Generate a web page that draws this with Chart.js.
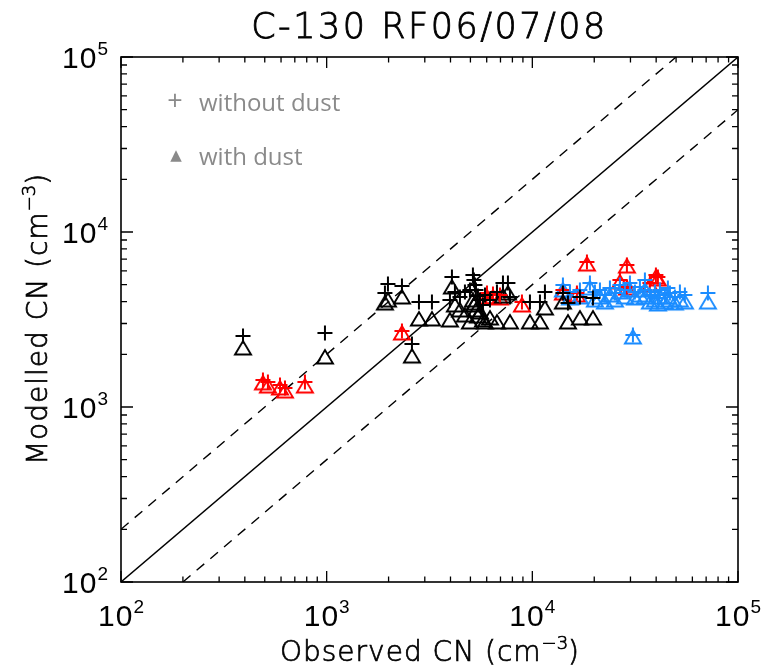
<!DOCTYPE html>
<html><head><meta charset="utf-8">
<script src="https://cdn.jsdelivr.net/npm/chart.js@4/dist/chart.umd.min.js"></script>
<style>html,body{margin:0;padding:0;background:#fff}canvas{display:block}</style>
</head><body>
<canvas id="c" width="762" height="668"></canvas>
<script>
// ---- text ----
const TITLE = 'C-130 RF06/07/08';
const X_TITLE = ['Observed CN (cm', '\u22123', ')'];
const Y_TITLE = ['Modelled CN (cm', '\u22123', ')'];
const LEGEND_LABELS = ['without dust', 'with dust'];
const LEGEND_SYMBOLS = ['+', '\u25B2'];

// ---- axes ----
const DECADE_TICKS = [100, 1000, 10000, 100000];
const DECADE_EXPONENTS = ['2', '3', '4', '5'];
const MINOR_STEPS = [2, 3, 4, 5, 6, 7, 8, 9];

// ---- reference lines (1:1, x2, x0.5) ----
const LINE_1TO1_X = [100, 100000];
const LINE_1TO1_Y = [100, 100000];
const LINE_UP_X = [100, 50000];
const LINE_UP_Y = [200, 100000];
const LINE_DOWN_X = [200, 100000];
const LINE_DOWN_Y = [100, 50000];

// ---- black series ----
const OBS_BLACK = [392, 981, 1920, 1986, 2323, 2598, 2810, 3250, 4065, 4204, 3975, 4446, 4702, 4973, 5142, 5200, 5260, 5320, 5440, 5565, 5754, 5885, 6223, 6729, 7197, 7609, 7784, 9735, 10890, 11515, 14085, 14900, 17035, 19710];
const NODUST_BLACK = [2545, 2648, 4481, 5045, 4913, 2291, 3981, 3981, 5532, 4541, 4087, 4252, 4541, 4662, 5679, 5317, 4979, 4662, 4308, 4087, 3827, 4365, 4087, 4541, 5112, 5112, 4252, 3981, 3981, 4541, 4481, 3929, 4252, 4197];
const DUST_BLACK = [2174, 1931, 3929, 4087, 4252, 1956, 3184, 3184, 4850, 3827, 3142, 3584, 3355, 3060, 4087, 3827, 3929, 3584, 3311, 3491, 3142, 3060, 3226, 3060, 4308, 4481, 3060, 3060, 3060, 3679, 3981, 3060, 3226, 3226];

// ---- red series ----
const OBS_RED = [490, 518, 593, 627, 784, 2323, 6018, 6436, 6960, 8902, 14085, 16475, 18430, 26660, 28830, 28830, 37295, 39890, 40790];
const NODUST_RED = [1426, 1390, 1336, 1285, 1390, 2718, 4481, 4422, 4365, 3981, 4662, 4481, 6741, 5317, 6477, 4850, 5112, 5679, 5532];
const DUST_RED = [1374, 1318, 1285, 1234, 1318, 2648, 4252, 4252, 4197, 3827, 4481, 4365, 6563, 5180, 6393, 4786, 4979, 5532, 5387];

// ---- blue series ----
const OBS_BLUE = [14085, 15235, 17035, 19055, 20155, 21315, 22540, 23835, 25210, 26660, 28190, 29820, 30840, 31535, 33350, 35265, 37295, 39440, 41710, 44120, 46660, 49340, 52180, 55180, 71410, 45620, 40790, 35265];
const NODUST_BLUE = [4979, 4541, 4662, 5112, 4541, 4662, 4365, 4786, 4481, 4979, 4662, 5112, 2578, 4541, 4850, 4662, 4365, 4541, 4662, 4365, 4481, 4252, 4541, 4365, 4481, 4786, 4197, 5317];
const DUST_BLUE = [4662, 4197, 4252, 4786, 4087, 4252, 3981, 4365, 4087, 4541, 4252, 4662, 2512, 4197, 4365, 4252, 3981, 4087, 4252, 3981, 4087, 3929, 4087, 3981, 3981, 4252, 3878, 4662];

const COLORS = { black: '#000000', red: '#ff0000', blue: '#1a8cff' };
const GRAY = '#8a8a8a';

const pts = (xs, ys) => xs.map((x, i) => ({ x, y: ys[i] }));

function triangleImage(color) {
  const c = document.createElement('canvas');
  c.width = 20; c.height = 18;
  const g = c.getContext('2d');
  g.strokeStyle = color; g.lineWidth = 1.9; g.lineJoin = 'miter';
  g.beginPath(); g.moveTo(2, 15.5); g.lineTo(10, 2); g.lineTo(18, 15.5); g.closePath(); g.stroke();
  return c;
}

function plusSet(xs, ys, color) {
  return { data: pts(xs, ys), pointStyle: 'cross', pointRadius: 7.5, borderColor: color, borderWidth: 2, backgroundColor: color, order: 1 };
}
function triSet(xs, ys, color) {
  return { data: pts(xs, ys), pointStyle: triangleImage(color), pointRadius: 8, borderColor: color, backgroundColor: color, order: 2 };
}
function lineSet(xs, ys, dash) {
  return { type: 'line', data: pts(xs, ys), borderColor: '#000', borderWidth: 1.4, borderDash: dash, pointRadius: 0, fill: false, order: 5 };
}

function drawParts(ctx, parts, x, y, align, strokeW) {
  let total = 0;
  const ws = parts.map(p => { ctx.font = p.font; ctx.letterSpacing = p.ls || '0px'; const w = ctx.measureText(p.t).width; total += w; return w; });
  let cx = align === 'center' ? x - total / 2 : (align === 'right' ? x - total : x);
  parts.forEach((p, i) => {
    ctx.font = p.font; ctx.letterSpacing = p.ls || '0px';
    ctx.fillText(p.t, cx, y + (p.dy || 0));
    if (strokeW) { ctx.lineWidth = strokeW; ctx.strokeStyle = ctx.fillStyle; ctx.strokeText(p.t, cx, y + (p.dy || 0)); }
    cx += ws[i];
  });
  ctx.letterSpacing = '0px';
}

const TICK_FONT = '30px "Liberation Sans"';
const SUP_FONT = '19px "Liberation Sans"';
const AX_FONT = '200 28px "DejaVu Sans"';
const AX_SUP = '200 18px "DejaVu Sans"';

const decor = {
  id: 'decor',
  afterDatasetsDraw(chart) {
    const { ctx, chartArea: a, scales: { x, y } } = chart;
    ctx.save();
    ctx.strokeStyle = '#000';
    ctx.lineWidth = 1.6;
    ctx.strokeRect(a.left, a.top, a.right - a.left, a.bottom - a.top);
    ctx.lineWidth = 1.3;
    ctx.beginPath();
    const majX = 11, minX = 5.5, majY = 12, minY = 6;
    DECADE_TICKS.forEach((d, k) => {
      const vals = [[d, true]];
      if (k < DECADE_TICKS.length - 1) MINOR_STEPS.forEach(m => vals.push([d * m, false]));
      vals.forEach(([v, major]) => {
        const px = x.getPixelForValue(v);
        const lx = major ? majX : minX;
        ctx.moveTo(px, a.bottom); ctx.lineTo(px, a.bottom - lx);
        ctx.moveTo(px, a.top); ctx.lineTo(px, a.top + lx);
        const py = y.getPixelForValue(v);
        const ly = major ? majY : minY;
        ctx.moveTo(a.left, py); ctx.lineTo(a.left + ly, py);
        ctx.moveTo(a.right, py); ctx.lineTo(a.right - ly, py);
      });
    });
    ctx.stroke();

    ctx.fillStyle = '#000';
    ctx.textBaseline = 'alphabetic';
    ctx.textAlign = 'left';
    DECADE_TICKS.forEach((d, k) => {
      const parts = [{ t: '10', font: TICK_FONT, ls: '1px' }, { t: DECADE_EXPONENTS[k], font: SUP_FONT, dy: -13 }];
      drawParts(ctx, parts, x.getPixelForValue(d), 626, 'center');
      drawParts(ctx, parts, 108, y.getPixelForValue(d) + 11, 'right');
    });

    // title
    drawParts(ctx, [{ t: TITLE, font: '200 35px "DejaVu Sans"', ls: '2.5px' }], (a.left + a.right) / 2, 38, 'center', 0.8);
    // x title
    drawParts(ctx, [{ t: X_TITLE[0], font: AX_FONT, ls: '1px' }, { t: X_TITLE[1], font: AX_SUP, dy: -12 }, { t: X_TITLE[2], font: AX_FONT }], (a.left + a.right) / 2, 661, 'center', 0.7);
    // y title
    ctx.save();
    ctx.translate(47, (a.top + a.bottom) / 2);
    ctx.rotate(-Math.PI / 2);
    drawParts(ctx, [{ t: Y_TITLE[0], font: AX_FONT, ls: '1px' }, { t: Y_TITLE[1], font: AX_SUP, dy: -12 }, { t: Y_TITLE[2], font: AX_FONT }], 0, 0, 'center', 0.7);
    ctx.restore();

    // legend
    ctx.fillStyle = GRAY;
    ctx.textAlign = 'center';
    ctx.textBaseline = 'middle';
    ctx.font = '27px "Open Sans"';
    ctx.fillText(LEGEND_SYMBOLS[0], 175, 102);
    ctx.font = '15px "DejaVu Sans"';
    ctx.fillText(LEGEND_SYMBOLS[1], 176, 156);
    ctx.textAlign = 'left';
    ctx.textBaseline = 'alphabetic';
    ctx.font = '24px "Open Sans"';
    ctx.fillText(LEGEND_LABELS[0], 199, 111);
    ctx.fillText(LEGEND_LABELS[1], 199, 165);
    ctx.restore();
  }
};

new Chart(document.getElementById('c'), {
  type: 'scatter',
  data: {
    datasets: [
      lineSet(LINE_1TO1_X, LINE_1TO1_Y, []),
      lineSet(LINE_UP_X, LINE_UP_Y, [10, 8]),
      lineSet(LINE_DOWN_X, LINE_DOWN_Y, [10, 8]),
      triSet(OBS_BLACK, DUST_BLACK, COLORS.black),
      plusSet(OBS_BLACK, NODUST_BLACK, COLORS.black),
      triSet(OBS_BLUE, DUST_BLUE, COLORS.blue),
      plusSet(OBS_BLUE, NODUST_BLUE, COLORS.blue),
      triSet(OBS_RED, DUST_RED, COLORS.red),
      plusSet(OBS_RED, NODUST_RED, COLORS.red)
    ]
  },
  options: {
    responsive: false,
    animation: false,
    devicePixelRatio: 1,
    events: [],
    layout: { padding: { top: 57, right: 24, left: 0, bottom: 0 } },
    plugins: { legend: { display: false }, tooltip: { enabled: false }, title: { display: false } },
    scales: {
      x: {
        type: 'logarithmic', min: 100, max: 100000,
        grid: { display: false, drawTicks: false }, border: { display: false },
        ticks: { display: false },
        afterFit: s => { s.height = 86; }
      },
      y: {
        type: 'logarithmic', min: 100, max: 100000,
        grid: { display: false, drawTicks: false }, border: { display: false },
        ticks: { display: false },
        afterFit: s => { s.width = 121; }
      }
    }
  },
  plugins: [decor]
});
</script>
</body></html>
